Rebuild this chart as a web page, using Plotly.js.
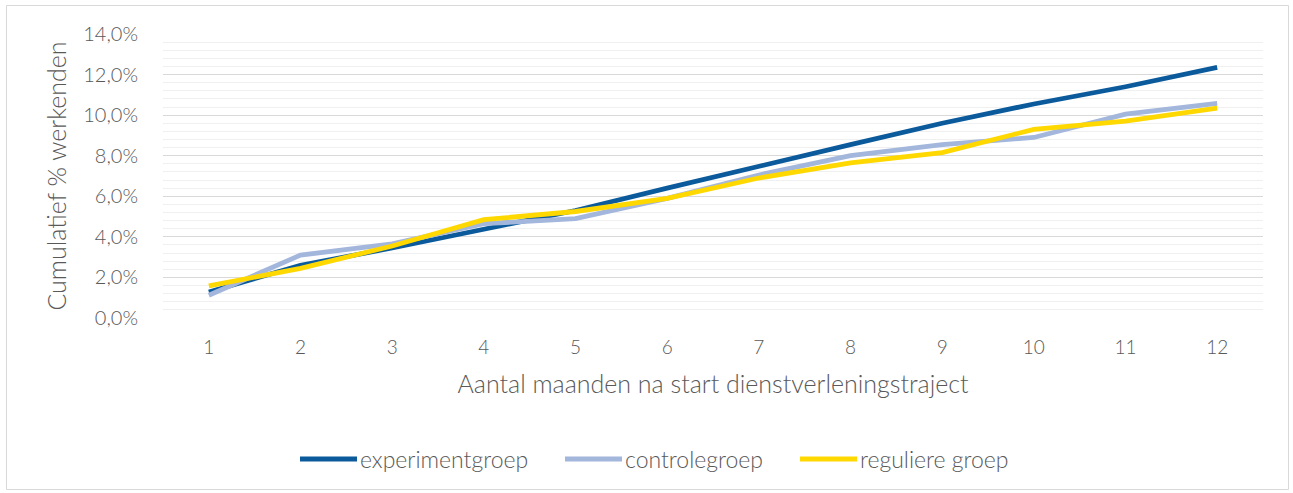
<!DOCTYPE html>
<html>
<head>
<meta charset="utf-8">
<script src="https://cdn.plot.ly/plotly-3.0.1.min.js"></script>
<style>html,body{margin:0;padding:0;background:#fff;}#chart{width:1293px;height:493px;}</style>
</head>
<body>
<div id="chart"></div>
<script>
const months = ['1','2','3','4','5','6','7','8','9','10','11','12'];
const experimentgroep = [1.28, 2.6, 3.45, 4.4, 5.3, 6.4, 7.5, 8.55, 9.6, 10.55, 11.4, 12.35];
const controlegroep   = [1.12, 3.1, 3.65, 4.65, 4.9, 5.9, 7.05, 8.0, 8.55, 8.9, 10.05, 10.58];
const reguliereGroep  = [1.58, 2.45, 3.55, 4.85, 5.25, 5.9, 6.9, 7.65, 8.15, 9.3, 9.7, 10.35];
const seriesNames = ['experimentgroep', 'controlegroep', 'reguliere groep'];
const yTitle = 'Cumulatief % werkenden';
const xTitle = 'Aantal maanden na start dienstverleningstraject';

const colors = ['#0b5a9c', '#a3b6dc', '#ffd800'];
const font = 'Lato, "Open Sans", sans-serif';
const txt = '#595959';

const traces = [experimentgroep, controlegroep, reguliereGroep].map((vals, i) => ({
  type: 'scatter', mode: 'lines', x: months, y: vals, name: seriesNames[i],
  line: {color: colors[i], width: 4.8}, hoverinfo: 'skip', showlegend: false
}));

const L = 163, R = 1263, T = 34, B = 318;
const pw = R - L, ph = B - T;
const px = v => (v - L) / pw;
const py = v => (B - v) / ph;

// custom legend (wide line samples as in the original)
const legendY = py(459);
const legendSampleX = [300, 565, 800];
const sampleLen = 57;
const legendShapes = seriesNames.map((n, i) => ({
  type: 'line', xref: 'paper', yref: 'paper',
  x0: px(legendSampleX[i]), x1: px(legendSampleX[i] + sampleLen), y0: legendY, y1: legendY,
  line: {color: colors[i], width: 5}
}));
const legendAnn = seriesNames.map((n, i) => ({
  text: n, xref: 'paper', yref: 'paper', x: px(legendSampleX[i] + sampleLen + 1), y: legendY,
  xanchor: 'left', yanchor: 'middle', showarrow: false,
  font: {size: 23, color: txt, weight: 300}
}));

const layout = {
  width: 1293, height: 493,
  margin: {l: L, r: 1293 - R, t: T, b: 493 - B},
  paper_bgcolor: '#fff', plot_bgcolor: '#fff',
  separators: ',.',
  font: {family: font, color: txt, size: 15, weight: 300},
  showlegend: false,
  xaxis: {type: 'category', range: [-0.5, 11.5], showgrid: false, zeroline: false,
          showline: false, ticks: '', ticklabelstandoff: 16,
          tickfont: {size: 19, color: txt, weight: 300},
          title: {text: xTitle, font: {size: 25, color: txt, weight: 300}, standoff: 18},
          automargin: false, fixedrange: true},
  yaxis: {range: [0, 14], dtick: 2, tickformat: '.1f', ticksuffix: '%',
          showgrid: true, gridcolor: '#d9d9d9', gridwidth: 1.2, zeroline: false,
          showline: false, ticks: '', ticklabelstandoff: 24,
          tickfont: {size: 20, color: txt, weight: 300},
          minor: {dtick: 0.4, showgrid: true, gridcolor: '#f0f0f0', gridwidth: 1},
          title: {text: yTitle, font: {size: 25, color: txt, weight: 300}, standoff: 9},
          automargin: false, fixedrange: true},
  annotations: legendAnn,
  shapes: [{type: 'rect', xref: 'paper', yref: 'paper', x0: px(6.5), x1: px(1288.5), y0: py(489.5), y1: py(5.5),
            line: {color: '#d9d9d9', width: 1}, fillcolor: 'rgba(0,0,0,0)', layer: 'below'}].concat(legendShapes)
};

Plotly.newPlot('chart', traces, layout, {displayModeBar: false, staticPlot: true});
</script>
</body>
</html>
